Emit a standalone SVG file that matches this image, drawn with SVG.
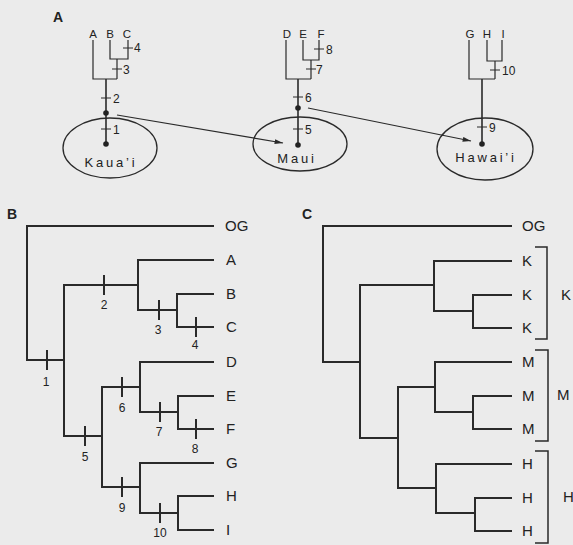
<svg xmlns="http://www.w3.org/2000/svg" width="573" height="545" viewBox="0 0 573 545">
<defs>
<marker id="arr" viewBox="0 0 10 6" refX="10" refY="3" markerWidth="9" markerHeight="5" markerUnits="userSpaceOnUse" orient="auto">
<path d="M0,0 L10,3 L0,6 Z" fill="#2a2a2a"/>
</marker>
</defs>
<style>
text{font-family:"Liberation Sans",Arial,sans-serif;fill:#222}
.pl{font-weight:bold;font-size:14px}
.ta{font-size:11.5px;text-anchor:middle}
.na{font-size:12px}
.isl{font-size:13px;text-anchor:middle;letter-spacing:2.8px}
.lf{font-size:15px}
.nb{font-size:12px;text-anchor:middle}
.thin{fill:none;stroke:#2a2a2a;stroke-width:1.2}
.stem{fill:none;stroke:#2a2a2a;stroke-width:1.6}
.thick{fill:none;stroke:#2a2a2a;stroke-width:2;stroke-linecap:square}
.tk{fill:none;stroke:#2a2a2a;stroke-width:2}
.ell{fill:none;stroke:#2a2a2a;stroke-width:1.3}
.dot{fill:#222}
.br{fill:none;stroke:#2a2a2a;stroke-width:1.5}
</style>
<rect width="573" height="545" fill="#ebebeb"/>

<!-- Panel A -->
<text class="pl" x="53" y="22">A</text>
<g id="kauai">
<ellipse class="ell" cx="110" cy="148" rx="47" ry="30"/>
<text class="isl" x="111" y="167">Kaua’i</text>
</g>
<g id="maui">
<ellipse class="ell" cx="300" cy="144" rx="47" ry="27"/>
<text class="isl" x="297" y="163">Maui</text>
</g>
<g id="hawaii">
<ellipse class="ell" cx="485" cy="149" rx="48" ry="31"/>
<text class="isl" x="486" y="162">Hawai’i</text>
</g>
<g id="tree-a-kauai">
<text class="ta" x="93" y="38">A</text>
<text class="ta" x="110" y="38">B</text>
<text class="ta" x="127" y="38">C</text>
<path class="thin" d="M93,40 V79 H117 M110,40 V59 H128 V40 M117,59 V79"/>
<path class="stem" d="M106,79 V144"/>
<path class="thin" d="M123,48 H133 M112,69 H122 M101,98 H111 M101,129 H111"/>
<text class="na" x="134" y="52">4</text>
<text class="na" x="123" y="74">3</text>
<text class="na" x="113" y="103">2</text>
<text class="na" x="113" y="134">1</text>
<circle class="dot" cx="106" cy="113" r="2.8"/>
<circle class="dot" cx="106" cy="144" r="2.8"/>
</g>
<g id="tree-a-maui">
<text class="ta" x="287" y="38">D</text>
<text class="ta" x="303" y="38">E</text>
<text class="ta" x="321" y="38">F</text>
<path class="thin" d="M286,40 V79 H311 M303,40 V60 H319 V40 M311,60 V79"/>
<path class="stem" d="M298,79 V145"/>
<path class="thin" d="M314,49 H324 M306,69 H316 M293,97 H303 M293,129 H303"/>
<text class="na" x="326" y="54">8</text>
<text class="na" x="316" y="74">7</text>
<text class="na" x="305" y="102">6</text>
<text class="na" x="305" y="134">5</text>
<circle class="dot" cx="298" cy="108" r="2.8"/>
<circle class="dot" cx="298" cy="145" r="2.8"/>
</g>
<g id="tree-a-hawaii">
<text class="ta" x="470" y="38">G</text>
<text class="ta" x="487" y="38">H</text>
<text class="ta" x="503" y="38">I</text>
<path class="thin" d="M469,40 V79 H495 M487,40 V61 H502 V40 M495,61 V79"/>
<path class="stem" d="M482,79 V144"/>
<path class="thin" d="M490,70 H500 M477,127 H487"/>
<text class="na" x="502" y="75">10</text>
<text class="na" x="489" y="132">9</text>
<circle class="dot" cx="482" cy="144" r="2.8"/>
</g>
<g id="connectors-a">
<line class="thin" x1="117" y1="115" x2="283" y2="143" marker-end="url(#arr)"/>
<line class="thin" x1="308" y1="108" x2="471" y2="141" marker-end="url(#arr)"/>
</g>

<!-- Panel B -->
<text class="pl" x="7" y="219">B</text>
<g id="tree-b">
<path class="thick" d="M213,226 H27 V360 H64 M64,285 V436 M64,285 H138 M138,260 V310 M138,260 H213 M138,310 H177 M177,294 V327 M177,294 H213 M177,327 H213 M64,436 H102 M102,387 V487 M102,387 H140 M140,362 V412 M140,362 H213 M140,412 H178 M178,396 V429 M178,396 H213 M178,429 H213 M102,487 H140 M140,463 V513 M140,463 H213 M140,513 H178 M178,496 V530 M178,496 H213 M178,530 H213"/>
<path class="tk" d="M47,350 V370 M104,275 V295 M159,300 V320 M196,317 V337 M85,426 V446 M122,377 V397 M160,402 V422 M196,419 V439 M122,477 V497 M160,503 V523"/>
<text class="lf" x="225" y="231">OG</text>
<text class="lf" x="226" y="265">A</text>
<text class="lf" x="226" y="299">B</text>
<text class="lf" x="226" y="332">C</text>
<text class="lf" x="226" y="367">D</text>
<text class="lf" x="226" y="401">E</text>
<text class="lf" x="226" y="434">F</text>
<text class="lf" x="226" y="468">G</text>
<text class="lf" x="226" y="501">H</text>
<text class="lf" x="226" y="535">I</text>
<text class="nb" x="46" y="386">1</text>
<text class="nb" x="104" y="309">2</text>
<text class="nb" x="158" y="334">3</text>
<text class="nb" x="195" y="349">4</text>
<text class="nb" x="85" y="461">5</text>
<text class="nb" x="122" y="412">6</text>
<text class="nb" x="159" y="436">7</text>
<text class="nb" x="195" y="453">8</text>
<text class="nb" x="122" y="512">9</text>
<text class="nb" x="160" y="537">10</text>
</g>

<!-- Panel C -->
<text class="pl" x="302" y="219">C</text>
<g id="tree-c">
<path class="thick" d="M511,226 H323 V362 H360 M360,285 V438 M360,285 H434 M434,261 V311 M434,261 H511 M434,311 H473 M473,295 V328 M473,295 H511 M473,328 H511 M360,438 H398 M398,387 V488 M398,387 H435 M435,362 V412 M435,362 H511 M435,412 H473 M473,396 V429 M473,396 H511 M473,429 H511 M398,488 H436 M436,464 V513 M436,464 H511 M436,513 H475 M475,498 V531 M475,498 H511 M475,531 H511"/>
<text class="lf" x="522" y="231">OG</text>
<text class="lf" x="522" y="266">K</text>
<text class="lf" x="522" y="300">K</text>
<text class="lf" x="522" y="333">K</text>
<text class="lf" x="522" y="367">M</text>
<text class="lf" x="522" y="401">M</text>
<text class="lf" x="522" y="434">M</text>
<text class="lf" x="522" y="469">H</text>
<text class="lf" x="522" y="503">H</text>
<text class="lf" x="522" y="536">H</text>
</g>
<g id="brackets-c">
<path class="br" d="M535,247 H547 V339 H535"/>
<path class="br" d="M535,350 H548 V441 H535"/>
<path class="br" d="M535,451 H548 V543 H535"/>
<text class="lf" x="561" y="300">K</text>
<text class="lf" x="557" y="400">M</text>
<text class="lf" x="563" y="502">H</text>
</g>
</svg>
